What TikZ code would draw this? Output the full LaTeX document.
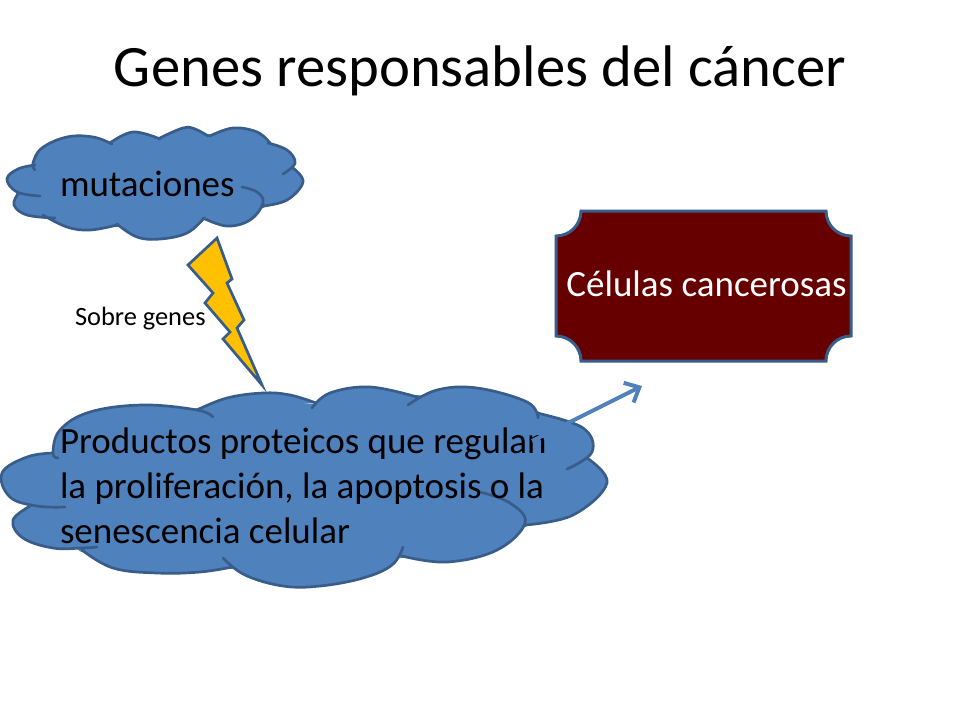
\documentclass[tikz,border=0pt]{standalone}
\usepackage{fontspec}
\setmainfont{Carlito}
\usetikzlibrary{arrows.meta}
\definecolor{cloudfill}{HTML}{4F81BD}
\definecolor{cloudline}{HTML}{385D8A}
\definecolor{boltfill}{HTML}{FFC000}
\definecolor{plaquefill}{HTML}{660000}
\tikzset{
  cloudstroke/.style={draw=cloudline,line width=2.7pt,line cap=round,line join=round},
  cloudcore/.style={fill=cloudfill,draw=cloudfill,line width=6pt,line join=round},
  label/.style={inner sep=0pt,outer sep=0pt,text=black},
  lob/.style={smooth,tension=.65},
}
\def\topLobes{
  plot[lob] coordinates {(35,165) (18,169) (7,179) (17,192) (40,196)}
  plot[lob] coordinates {(18,194) (14,205) (27,215) (55,218)}
  plot[lob] coordinates {(43,215) (67,227) (90,230) (117,225)}
  plot[lob] coordinates {(117,224) (137,237) (160,239) (187,233) (204,218)}
  plot[lob] coordinates {(203,218) (227,226) (250,220) (263,203) (257,192) (242,187)}
  plot[lob] coordinates {(263,206) (287,200) (303,182) (293,168)}
  plot[lob] coordinates {(283,174) (295,163) (287,150) (268,143)}
  plot[lob] coordinates {(270,143) (257,132) (233,128) (210,136)}
  plot[lob] coordinates {(208,136) (195,129) (183,128) (160,138)}
  plot[lob] coordinates {(160,139) (133,132) (110,143)}
  plot[lob] coordinates {(112,144) (93,137) (67,137) (42,148) (33,163) (35,170)}
}
\def\bigLobes{
  plot[lob] coordinates {(53,453) (27,457) (2,473) (10,497) (37,506) (65,507)}
  plot[lob] coordinates {(32,505) (13,520) (23,538) (53,548) (82,548) (97,547)}
  plot[lob] coordinates {(82,550) (113,568) (157,573) (200,572) (232,567)}
  plot[lob] coordinates {(223,558) (245,575) (283,586) (320,586) (363,578) (392,565) (403,547)}
  plot[lob] coordinates {(402,556) (447,562) (497,550) (525,523) (510,503) (480,492)}
  plot[lob] coordinates {(525,525) (573,515) (607,483) (587,458)}
  plot[lob] coordinates {(567,469) (592,452) (583,428) (537,413)}
  plot[lob] coordinates {(538,418) (527,402) (477,388) (437,390) (408,405)}
  plot[lob] coordinates {(417,397) (370,387) (330,393) (312,408)}
  plot[lob] coordinates {(316,403) (290,395) (263,393) (227,398) (197,410)}
  plot[lob] coordinates {(213,417) (197,410) (143,405) (90,412) (60,430) (53,453) (58,458)}
}
\begin{document}
\begin{tikzpicture}[x=1pt,y=-1pt]
\useasboundingbox (0,0) rectangle (960,720);
\fill[white] (0,0) rectangle (960,720);
\node[label,font=\fontsize{58.67}{70}\selectfont,anchor=base] (title) at (480,86) {Genes responsables del cáncer};
% top cloud
\fill[cloudfill] \topLobes;
\path[cloudcore] (37,166) -- (110,145) -- (160,140) -- (210,137) -- (268,145) -- (291,169)
  -- (263,205) -- (204,217) -- (117,224) -- (55,217) -- (19,194) -- cycle;
\path[cloudstroke] \topLobes;
\node[label,font=\fontsize{37}{44}\selectfont,anchor=base west] (mut) at (60,196) {mutaciones};
% bolt
\path[fill=boltfill,draw=cloudline,line width=2.7pt,line join=miter]
  (217,238) -- (232,279) -- (227,283) -- (244,320) -- (237,328) -- (262,385) -- (223,339)
  -- (230,332) -- (205,303) -- (213,293) -- (188,265) -- cycle;
\node[label,font=\fontsize{26.4}{31}\selectfont,anchor=base west] (sobre) at (75,325) {Sobre genes};
% large cloud
\fill[cloudfill] \bigLobes;
\path[cloudcore] (54,454) -- (197,411) -- (255,402) -- (312,407) -- (417,398) -- (537,414) -- (586,458)
  -- (525,524) -- (402,555) -- (232,566) -- (82,549) -- (33,505) -- cycle;
\path[cloudstroke] \bigLobes;
\node[label,font=\fontsize{37}{45}\selectfont,anchor=base west] (prod1) at (60,453) {Productos proteicos que regulan};
\node[label,font=\fontsize{37}{45}\selectfont,anchor=base west] (prod2) at (60,498) {la proliferación, la apoptosis o la};
\node[label,font=\fontsize{37}{45}\selectfont,anchor=base west] (prod3) at (60,543) {senescencia celular};
% plaque
\path[fill=plaquefill,draw=cloudline,line width=3pt,line join=miter]
  (581,211) -- (826,211) arc[start angle=180,end angle=90,radius=25]
  -- (851,336) arc[start angle=-90,end angle=-180,radius=25]
  -- (581,361) arc[start angle=0,end angle=-90,radius=25]
  -- (556,236) arc[start angle=90,end angle=0,radius=25] -- cycle;
\node[label,text=white,font=\fontsize{37}{44}\selectfont,anchor=base] (cel) at (706.5,296) {Células cancerosas};
% arrow
\coordinate (astart) at (532,441);
\coordinate (aend) at (642,386);
\draw[draw=cloudfill,line width=4pt,-{Straight Barb[length=12pt,width=22pt,line width=4pt]}] (astart) -- (aend);
\end{tikzpicture}
\end{document}
